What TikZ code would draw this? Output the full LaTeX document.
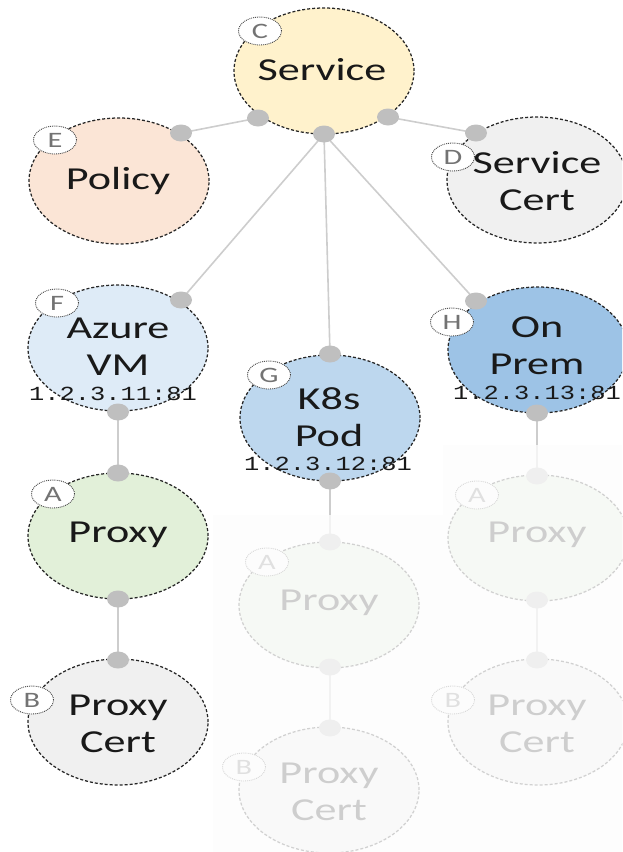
\documentclass[tikz,border=0pt]{standalone}
\usepackage{fontspec}
\setmainfont{Carlito}
\newfontfamily\lblfont[FakeStretch=1.38]{Carlito}
\newfontfamily\ipfont[FakeStretch=1.27]{Liberation Mono}
\usetikzlibrary{shapes.geometric}

\definecolor{svcfill}{HTML}{FFF2CC}
\definecolor{polfill}{HTML}{FBE5D6}
\definecolor{certfill}{HTML}{F0F0F0}
\definecolor{vmfill}{HTML}{DEEBF7}
\definecolor{podfill}{HTML}{BDD7EE}
\definecolor{premfill}{HTML}{9DC3E6}
\definecolor{proxyfill}{HTML}{E2F0D9}
\definecolor{dotgray}{HTML}{BFBFBF}
\definecolor{linkgray}{HTML}{CDCDCD}
\definecolor{fadewash}{HTML}{FCFCFC}

\pgfdeclarelayer{bg}
\pgfdeclarelayer{fg}
\pgfsetlayers{bg,main,fg}

\tikzset{
  bubble/.style={ellipse, draw=black!85, densely dashed, line width=1.25pt,
    minimum width=180pt, minimum height=126pt, inner sep=0pt},
  badge/.style={ellipse, draw=black!75, densely dotted, line width=0.9pt, fill=white,
    minimum width=43pt, minimum height=28pt, inner sep=0pt,
    font=\lblfont\fontsize{22}{22}\selectfont, text=black!55},
  dot/.style={ellipse, fill=dotgray, minimum width=22pt, minimum height=17pt, inner sep=0pt},
  link/.style={draw=linkgray, line width=1.6pt},
  title/.style={align=center, font=\lblfont\fontsize{32}{37}\selectfont, text=black!90, inner sep=0pt},
  addr/.style={font=\ipfont\fontsize{20}{20}\selectfont, text=black!90, inner sep=0pt},
}

\begin{document}
\begin{tikzpicture}[x=1pt,y=-1pt]
\useasboundingbox (0,0) rectangle (622,852);
\clip (0,0) rectangle (622,852);

% bubbles
\node[bubble, fill=svcfill]   (svc)   at (324,71)  {};
\node[bubble, fill=polfill]   (pol)   at (119,181) {};
\node[bubble, fill=certfill]  (scert) at (537,180) {};
\node[bubble, fill=vmfill]    (vm)    at (118,348) {};
\node[bubble, fill=podfill]   (pod)   at (330,418) {};
\node[bubble, fill=premfill]  (prem)  at (538,350) {};
\node[bubble, fill=proxyfill] (pxA)   at (118,536) {};
\node[bubble, fill=certfill]  (pcA)   at (118,722) {};
\node[bubble, fill=proxyfill] (pxG)   at (329,605) {};
\node[bubble, fill=certfill]  (pcG)   at (329,790) {};
\node[bubble, fill=proxyfill] (pxH)   at (538,538) {};
\node[bubble, fill=certfill]  (pcH)   at (538,722) {};

% connection points
\node[dot] (dC1) at (258,118) {};
\node[dot] (dC2) at (324,134) {};
\node[dot] (dC3) at (388,117) {};
\node[dot] (dE)  at (181,133) {};
\node[dot] (dD)  at (476,133) {};
\node[dot] (dF)  at (181,300) {};
\node[dot] (dG)  at (330,354) {};
\node[dot] (dH)  at (476,301) {};
\node[dot] (dF2) at (118,412) {};
\node[dot] (dA1) at (118,473) {};
\node[dot] (dA2) at (118,599) {};
\node[dot] (dB)  at (118,660) {};
\node[dot] (dG2) at (330,481) {};
\node[dot] (dGA1) at (330,542) {};
\node[dot] (dGA2) at (330,667) {};
\node[dot] (dGB) at (330,728) {};
\node[dot] (dH2) at (537,413) {};
\node[dot] (dHA1) at (537,476) {};
\node[dot] (dHA2) at (537,600) {};
\node[dot] (dHB) at (537,660) {};

% connectors
\begin{pgfonlayer}{bg}
\draw[link] (dC1.center) -- (dE.center);
\draw[link] (dC3.center) -- (dD.center);
\draw[link] (dC2.center) -- (dF.center);
\draw[link] (dC2.center) -- (dG.center);
\draw[link] (dC2.center) -- (dH.center);
\draw[link] (dF2.center) -- (dA1.center);
\draw[link] (dA2.center) -- (dB.center);
\draw[link] (dG2.center) -- (dGA1.center);
\draw[link] (dGA2.center) -- (dGB.center);
\draw[link] (dH2.center) -- (dHA1.center);
\draw[link] (dHA2.center) -- (dHB.center);
\end{pgfonlayer}

% labels
\node[title] (tSvc)   at (322,70)  {Service};
\node[title] (tPol)   at (118,181) {Policy};
\node[title] (tScert) at (537,181) {Service\\Cert};
\node[title] (tVm)    at (118,347) {Azure\\VM};
\node[title] (tPod)   at (329,417) {K8s\\Pod};
\node[title] (tPrem)  at (537,346) {On\\Prem};
\node[title] (tPxA)   at (118,535) {Proxy};
\node[title] (tPcA)   at (118,724) {Proxy\\Cert};
\node[title] (tPxG)   at (329,603) {Proxy};
\node[title] (tPcG)   at (329,792) {Proxy\\Cert};
\node[title] (tPxH)   at (537,535) {Proxy};
\node[title] (tPcH)   at (537,724) {Proxy\\Cert};

\node[addr] (ipF) at (113,394) {1.2.3.11:81};
\node[addr] (ipG) at (328,464) {1.2.3.12:81};
\node[addr] (ipH) at (537,393) {1.2.3.13:81};

% badges
\node[badge] (bC)  at (260,31)  {C};
\node[badge] (bE)  at (55,140)  {E};
\node[badge] (bD)  at (453,157) {D};
\node[badge] (bF)  at (57,303)  {F};
\node[badge] (bG)  at (269,375) {G};
\node[badge] (bH)  at (452,322) {H};
\node[badge] (bA)  at (53,494)  {A};
\node[badge] (bB)  at (32,700)  {B};
\node[badge] (bGA) at (267,562) {A};
\node[badge] (bGB) at (244,767) {B};
\node[badge] (bHA) at (477,495) {A};
\node[badge] (bHB) at (453,700) {B};

% washed-out area over the inactive proxies
\begin{pgfonlayer}{fg}
\fill[fadewash, opacity=0.8] (213,515) -- (443,515) -- (443,445) -- (622,445)
  -- (622,852) -- (213,852) -- cycle;
\end{pgfonlayer}
\end{tikzpicture}
\end{document}
